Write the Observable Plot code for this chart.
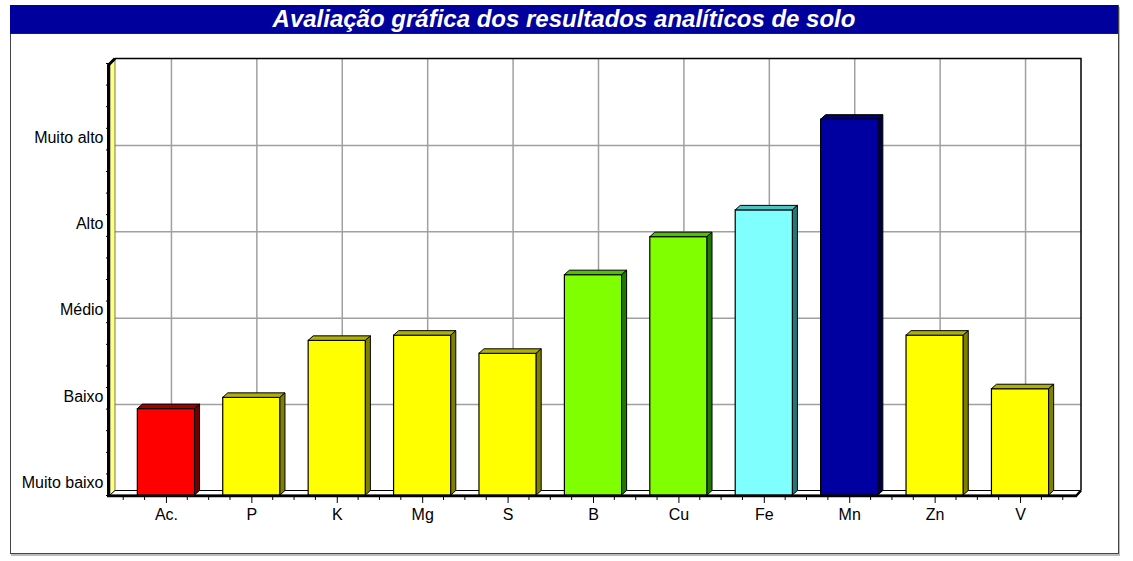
<!DOCTYPE html>
<html><head><meta charset="utf-8">
<script src="https://cdn.jsdelivr.net/npm/d3@7"></script>
<script src="https://cdn.jsdelivr.net/npm/@observablehq/plot@0.6"></script>
<style>
html,body{margin:0;padding:0;background:#fff;}
#wrap{position:relative;width:1133px;height:561px;overflow:hidden;font-family:"Liberation Sans",Arial,sans-serif;}
#frame{position:absolute;left:10px;top:5px;width:1107px;height:547px;border:1px solid #444;box-shadow:1px 2px 0 #bbb;}
#title{position:absolute;left:10px;top:5px;width:1108px;height:28px;background:#00009C;color:#fff;font-weight:bold;font-style:italic;font-size:24px;line-height:28px;text-align:center;border-bottom:1px solid #222;}
#chart{position:absolute;left:0;top:0;}
</style></head>
<body><div id="wrap"><div id="frame"></div><div id="chart"></div><div id="title">Avaliação gráfica dos resultados analíticos de solo</div></div>
<script>
// ---- data ----
const elements = ["Ac.", "P", "K", "Mg", "S", "B", "Cu", "Fe", "Mn", "Zn", "V"];
const values = [1.0, 1.13, 1.79, 1.85, 1.64, 2.55, 2.99, 3.30, 4.35, 1.85, 1.23];
const levels = ["Muito baixo", "Baixo", "Médio", "Alto", "Muito alto"];
const levelTicks = [0, 1, 2, 3, 4];
const faceColors = ["#FF0000", "#FFFF00", "#FFFF00", "#FFFF00", "#FFFF00", "#80FF00", "#80FF00", "#80FFFF", "#0000A0", "#FFFF00", "#FFFF00"];
const topColors  = ["#A00000", "#B0B000", "#B0B000", "#B0B000", "#B0B000", "#50C000", "#50C000", "#50C0C0", "#000070", "#B0B000", "#B0B000"];
const sideColors = ["#700000", "#808000", "#808000", "#808000", "#808000", "#207800", "#207800", "#207878", "#000040", "#808000", "#808000"];

const data = elements.map((e, i) => ({element: e, value: values[i], face: faceColors[i], top: topColors[i], side: sideColors[i]}));

const DX = 5, DY = 4.5;

function pts(a) { return a.map(p => p.join(",")).join(" "); }

// 3D bar faces (top + right side) derived from the rendered front rects
function bar3d(index, scales, vals, dims, context, next) {
  const g = next(index, scales, vals, dims, context);
  const rects = Array.from(g.querySelectorAll("rect"));
  const sel = d3.select(g);
  rects.forEach((r, j) => {
    const d = data[index[j]];
    const x = +r.getAttribute("x"), y = +r.getAttribute("y");
    const w = +r.getAttribute("width"), h = +r.getAttribute("height");
    sel.append("polygon")
      .attr("points", pts([[x, y], [x + DX, y - DY], [x + w + DX, y - DY], [x + w, y]]))
      .attr("fill", d.top).attr("stroke", "#000").attr("stroke-width", 1).attr("stroke-linejoin", "round");
    sel.append("polygon")
      .attr("points", pts([[x + w, y], [x + w + DX, y - DY], [x + w + DX, y + h - DY], [x + w, y + h]]))
      .attr("fill", d.side).attr("stroke", "#000").attr("stroke-width", 1).attr("stroke-linejoin", "round");
  });
  return g;
}

// walls and floor of the 3D box
function walls(index, scales, vals, dims) {
  const {width, height, marginLeft: L, marginRight: R, marginTop: T, marginBottom: B} = dims;
  const x0 = L, x1 = width - R, y0 = T, y1 = height - B;
  const g = d3.create("svg:g");
  levelTicks.slice(1).forEach(v => {
    const yy = scales.y(v);
    g.append("line").attr("x1", x0).attr("y1", yy).attr("x2", x0 + DX).attr("y2", yy - DY)
      .attr("stroke", "#A0A0A0").attr("stroke-width", 1.5);
  });
  g.append("polygon").attr("points", pts([[x0, y1], [x0, y0], [x0 + DX, y0 - DY], [x0 + DX, y1 - DY]]))
    .attr("fill", "#FFFF80").attr("stroke", "#555").attr("stroke-width", 0.8);
  g.append("polygon").attr("points", pts([[x0, y1], [x0 + DX, y1 - DY], [x1 + DX, y1 - DY], [x1, y1]]))
    .attr("fill", "#fff").attr("stroke", "#000").attr("stroke-width", 1);
  g.append("path").attr("d", `M${x0 + DX},${y0 - DY}H${x1 + DX}V${y1 - DY}`)
    .attr("fill", "none").attr("stroke", "#000").attr("stroke-width", 1.5);
  return g.node();
}

// thick front edges of the box
function frontEdges(index, scales, vals, dims) {
  const {width, height, marginLeft: L, marginRight: R, marginTop: T, marginBottom: B} = dims;
  const x0 = L, x1 = width - R, y0 = T, y1 = height - B;
  const g = d3.create("svg:g").attr("stroke", "#000").attr("fill", "none");
  g.append("path").attr("d", `M${x0 - 1.5},${y1 + 1}V${y0 + 2}L${x0 + DX},${y0 - DY}`).attr("stroke-width", 3);
  g.append("path").attr("d", `M${x0 - 3},${y1 + 1}H${x1}L${x1 + DX},${y1 - DY}`).attr("stroke-width", 2.5);
  return g.node();
}

// minor x ticks at quarter steps
function xMinor(index, scales, vals, dims) {
  const sx = scales.x;
  const bw = sx.bandwidth ? sx.bandwidth() : 57.2;
  const st = sx.step ? sx.step() : 85.4;
  const y1 = dims.height - dims.marginBottom;
  const g = d3.create("svg:g").attr("stroke", "#000").attr("stroke-width", 1);
  const first = sx(elements[0]) + bw / 2 - st / 2;
  for (let k = 0; k <= elements.length * 4; k++) {
    if (k % 4 === 2) continue;
    const x = first + k * st / 4;
    g.append("line").attr("x1", x).attr("x2", x).attr("y1", y1).attr("y2", y1 + 5);
  }
  return g.node();
}

const chart = Plot.plot({
  width: 1133, height: 561,
  marginLeft: 110, marginRight: 57, marginTop: 63, marginBottom: 66,
  style: {fontFamily: "Liberation Sans, Arial, sans-serif", fontSize: "16px", background: "transparent", color: "#000", overflow: "visible"},
  x: {domain: elements, paddingInner: 0.33, paddingOuter: 0.32, round: false},
  y: {domain: [0, 5]},
  marks: [
    Plot.ruleY(levelTicks.slice(1), {stroke: "#A0A0A0", strokeWidth: 1.5, dx: DX, dy: -DY}),
    Plot.ruleX(elements, {x: d => d, y1: 0, y2: 5, stroke: "#A0A0A0", strokeWidth: 1.5, dx: DX, dy: -DY}),
    walls,
    Plot.barY(data, {x: "element", y: "value", fill: "face", stroke: "#000", strokeWidth: 1.2, render: bar3d}),
    frontEdges,
    Plot.axisY({ticks: d3.range(0, 5.001, 0.25), tickFormat: () => "", tickSize: 4, stroke: "#000", label: null}),
    Plot.text(levels, {y: (d, i) => levelTicks[i], text: d => d, frameAnchor: "left", textAnchor: "end", dx: -7, dy: -12.5, fontSize: 16, fill: "#000"}),
    Plot.axisX({tickSize: 8, tickPadding: 5, fontSize: 16, stroke: "#000", fill: "#000", label: null}),
    xMinor
  ]
});
document.getElementById("chart").appendChild(chart);
</script>
</body></html>
